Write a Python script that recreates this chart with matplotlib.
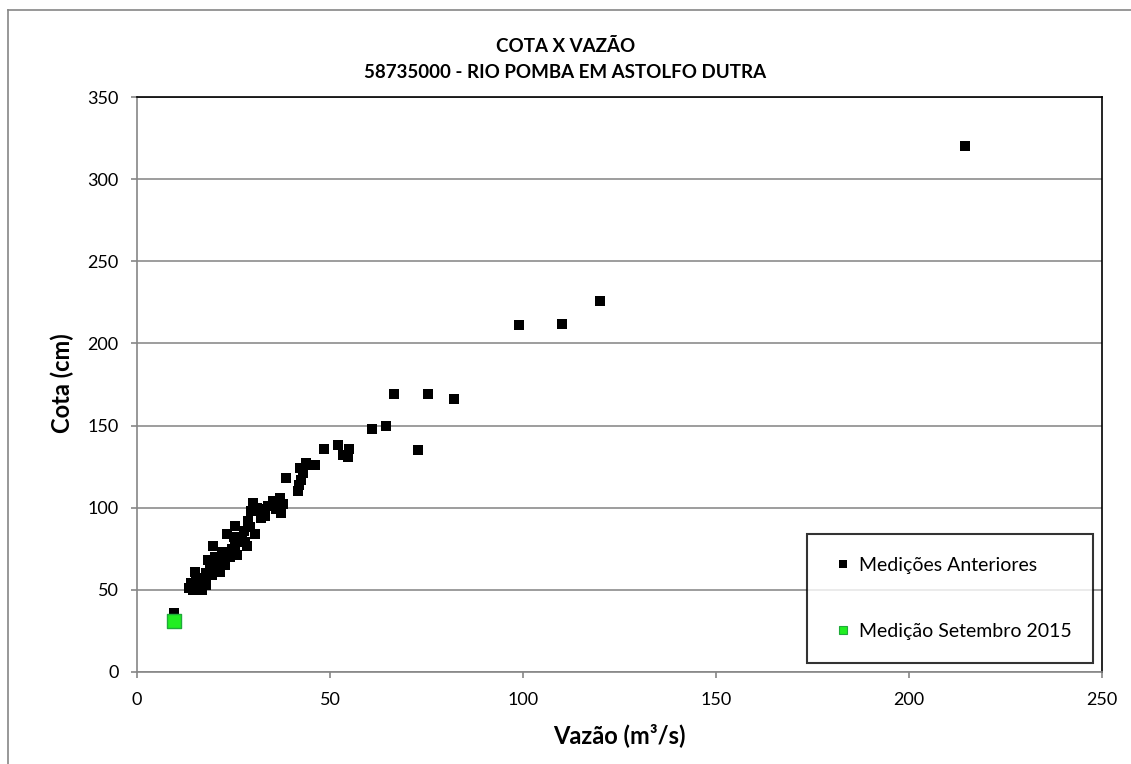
import matplotlib
matplotlib.use("Agg")
import matplotlib.pyplot as plt
from matplotlib.lines import Line2D

plt.rcParams['font.family'] = ['Lato', 'DejaVu Sans']

title_lines = ["COTA X VAZÃO", "58735000 - RIO POMBA EM ASTOLFO DUTRA"]
x_label = "Vazão (m³/s)"
y_label = "Cota (cm)"
series_names = ["Medições Anteriores", "Medição Setembro 2015"]

vazao_ant = [9.7, 13.5, 14.0, 14.5, 15.0, 15.2, 15.8, 16.3, 16.8, 17.2, 17.8, 18.0,
             18.5, 19.0, 19.5, 19.8, 20.2, 20.6, 21.0, 21.5, 21.9, 22.3, 22.8, 23.2,
             23.8, 24.1, 24.6, 25.0, 25.4, 25.4, 26.0, 26.5, 27.1, 27.6, 28.0, 28.4,
             28.8, 29.2, 29.6, 30.1, 30.6, 31.0, 31.4, 32.0, 33.2, 34.0, 35.3, 36.0,
             36.5, 37.0, 37.4, 37.7, 38.7, 41.7, 42.0, 42.2, 42.5, 43.0, 43.8, 45.2,
             46.0, 48.4, 52.0, 53.3, 54.6, 55.0, 61.0, 64.5, 66.5, 72.8, 75.4, 82.0,
             99.0, 110.0, 120.0, 214.5]
cota_ant = [36, 51, 54, 50, 61, 57, 52, 57, 50, 55, 53, 60,
            68, 64, 59, 77, 70, 63, 66, 61, 73, 68, 65, 84,
            72, 70, 75, 82, 89, 77, 71, 80, 82, 86, 79, 77,
            92, 88, 98, 103, 84, 100, 99, 94, 95, 101, 104, 99,
            103, 106, 97, 102, 118, 110, 114, 124, 117, 121, 127, 126,
            126, 136, 138, 132, 131, 136, 148, 150, 169, 135, 169, 166,
            211, 212, 226, 320]
vazao_2015 = [9.5]
cota_2015 = [31]

x_ticks = [0, 50, 100, 150, 200, 250]
y_ticks = [0, 50, 100, 150, 200, 250, 300, 350]

W, H = 1131, 764
L, R, T, B = 137, 1102, 97, 672
fig = plt.figure(figsize=(W / 100, H / 100), dpi=100)
ax = fig.add_axes([L / W, 1 - B / H, (R - L) / W, (B - T) / H])

ax.set_xlim(0, 250)
ax.set_ylim(0, 350)
ax.set_xticks(x_ticks)
ax.set_yticks(y_ticks)
ax.yaxis.grid(True, color='#8c8c8c', linewidth=1.2)
ax.set_axisbelow(True)

ax.scatter(vazao_ant, cota_ant, marker='s', s=55, color='black', linewidths=0, zorder=3)
ax.scatter(vazao_2015, cota_2015, marker='s', s=110, color='#22ee22',
           edgecolors='#1faa3a', linewidths=1.0, zorder=4)

for side in ['left', 'bottom']:
    ax.spines[side].set_color('#868686')
    ax.spines[side].set_linewidth(1.2)
for side in ['top', 'right']:
    ax.spines[side].set_color('black')
    ax.spines[side].set_linewidth(1.2)

ax.tick_params(axis='both', direction='out', length=4.3, width=1.2, color='#868686',
               labelsize=13, labelcolor='black')
ax.tick_params(axis='y', pad=9)
ax.tick_params(axis='x', pad=10)

fig.text((L + R) / 2 / W, 1 - 743 / H, x_label, ha='center', va='baseline',
         fontsize=17, fontweight='bold')
fig.text(62 / W, 1 - 383 / H, y_label, ha='center', va='center', rotation=90,
         fontsize=17, fontweight='bold')

fig.text(0.5, 1 - 52 / H, title_lines[0], ha='center', va='baseline', fontsize=13.5, fontweight='bold')
fig.text(0.5, 1 - 78 / H, title_lines[1], ha='center', va='baseline', fontsize=13.5, fontweight='bold')

handles = [
    Line2D([], [], marker='s', linestyle='none', markersize=6, markerfacecolor='black',
           markeredgecolor='black', markeredgewidth=0),
    Line2D([], [], marker='s', linestyle='none', markersize=6, markerfacecolor='#22ee22',
           markeredgecolor='#1faa3a', markeredgewidth=0.8),
]
x0 = (807 - L) / (R - L)
x1 = (1093 - L) / (R - L)
y0 = (B - 663) / (B - T)
leg = ax.legend(handles, series_names, loc='lower left', mode='expand',
                bbox_to_anchor=(x0, y0, x1 - x0, 0.2),
                borderaxespad=0, fontsize=14, frameon=True, fancybox=False,
                edgecolor='black', labelspacing=2.5, borderpad=1.2, handletextpad=0.1,
                handlelength=1.35)
leg.get_frame().set_linewidth(1.5)

# outer chart frame (left and top visible)
fig.add_artist(Line2D([8 / W, 8 / W], [0, 1 - 10 / H], color='#868686', linewidth=1.2,
                      transform=fig.transFigure))
fig.add_artist(Line2D([8 / W, 1], [1 - 10 / H, 1 - 10 / H], color='#868686', linewidth=1.2,
                      transform=fig.transFigure))

fig.savefig('out.png', dpi=100, facecolor='white')
